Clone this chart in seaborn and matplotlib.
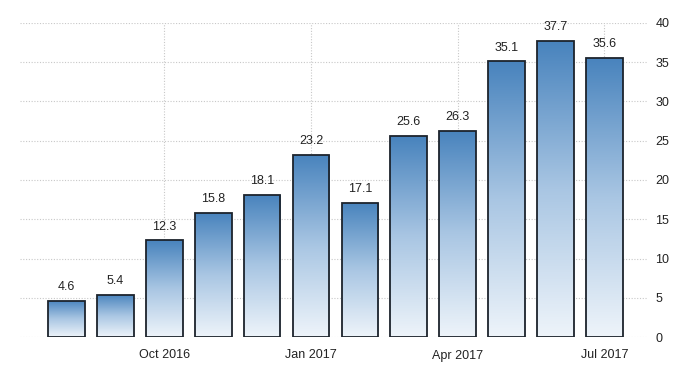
import matplotlib
matplotlib.use("Agg")
import matplotlib.pyplot as plt
import seaborn as sns
import numpy as np
import pandas as pd
from matplotlib.colors import LinearSegmentedColormap

months = ["Aug 2016", "Sep 2016", "Oct 2016", "Nov 2016", "Dec 2016", "Jan 2017",
          "Feb 2017", "Mar 2017", "Apr 2017", "May 2017", "Jun 2017", "Jul 2017"]
values = [4.6, 5.4, 12.3, 15.8, 18.1, 23.2, 17.1, 25.6, 26.3, 35.1, 37.7, 35.6]
tick_months = ["Oct 2016", "Jan 2017", "Apr 2017", "Jul 2017"]
y_ticks = [0, 5, 10, 15, 20, 25, 30, 35, 40]

sns.set_style("white")
plt.rcParams['font.family'] = ['Liberation Sans', 'DejaVu Sans']

df = pd.DataFrame({"month": months, "value": values})

fig = plt.figure(figsize=(7, 3.75), dpi=100)
ax = fig.add_axes([20/700, 38/375, 627/700, 314/375])

sns.barplot(data=df, x="month", y="value", ax=ax, width=0.75,
            color="#4a86bd", edgecolor="#1c232c", linewidth=1.3, zorder=3)

# gradient fill
grad = np.linspace(0, 1, 256).reshape(-1, 1)
cmap = LinearSegmentedColormap.from_list("g", ["#eef4fa", "#a9c6e3", "#4883bd"])
for p in ax.patches:
    x0, y0 = p.get_x(), p.get_y()
    w, h = p.get_width(), p.get_height()
    p.set_facecolor("none")
    im = ax.imshow(grad, cmap=cmap, aspect="auto", origin="lower",
                   extent=[x0, x0 + w, y0, y0 + h], zorder=2.5, interpolation="bicubic")
    im.set_clip_path(p)

for i, v in enumerate(values):
    ax.text(i, v + 1.0, f"{v:.1f}", ha="center", va="bottom", fontsize=9, color="#222222")

ax.set_xlim(-0.95, 11.87)
ax.set_ylim(0, 40)
ax.yaxis.tick_right()
ax.set_yticks(y_ticks)
ax.set_yticklabels([str(t) for t in y_ticks], fontsize=9, color="#222222")
tick_pos = [months.index(m) for m in tick_months]
ax.set_xticks(tick_pos)
ax.set_xticklabels(tick_months, fontsize=9, color="#222222")
ax.tick_params(axis="x", length=6, color="#bbbbbb", width=0.8, pad=3)
ax.tick_params(axis="y", length=0, pad=6)
for lab in ax.get_yticklabels():
    lab.set_horizontalalignment("left")

ax.grid(True, axis="both", linestyle=(0, (1, 1.5)), color="#c8c8c8", linewidth=0.8, zorder=0)
ax.set_axisbelow(True)
for s in ax.spines.values():
    s.set_visible(False)
ax.set_xlabel("")
ax.set_ylabel("")

fig.savefig("out.png", dpi=100)
